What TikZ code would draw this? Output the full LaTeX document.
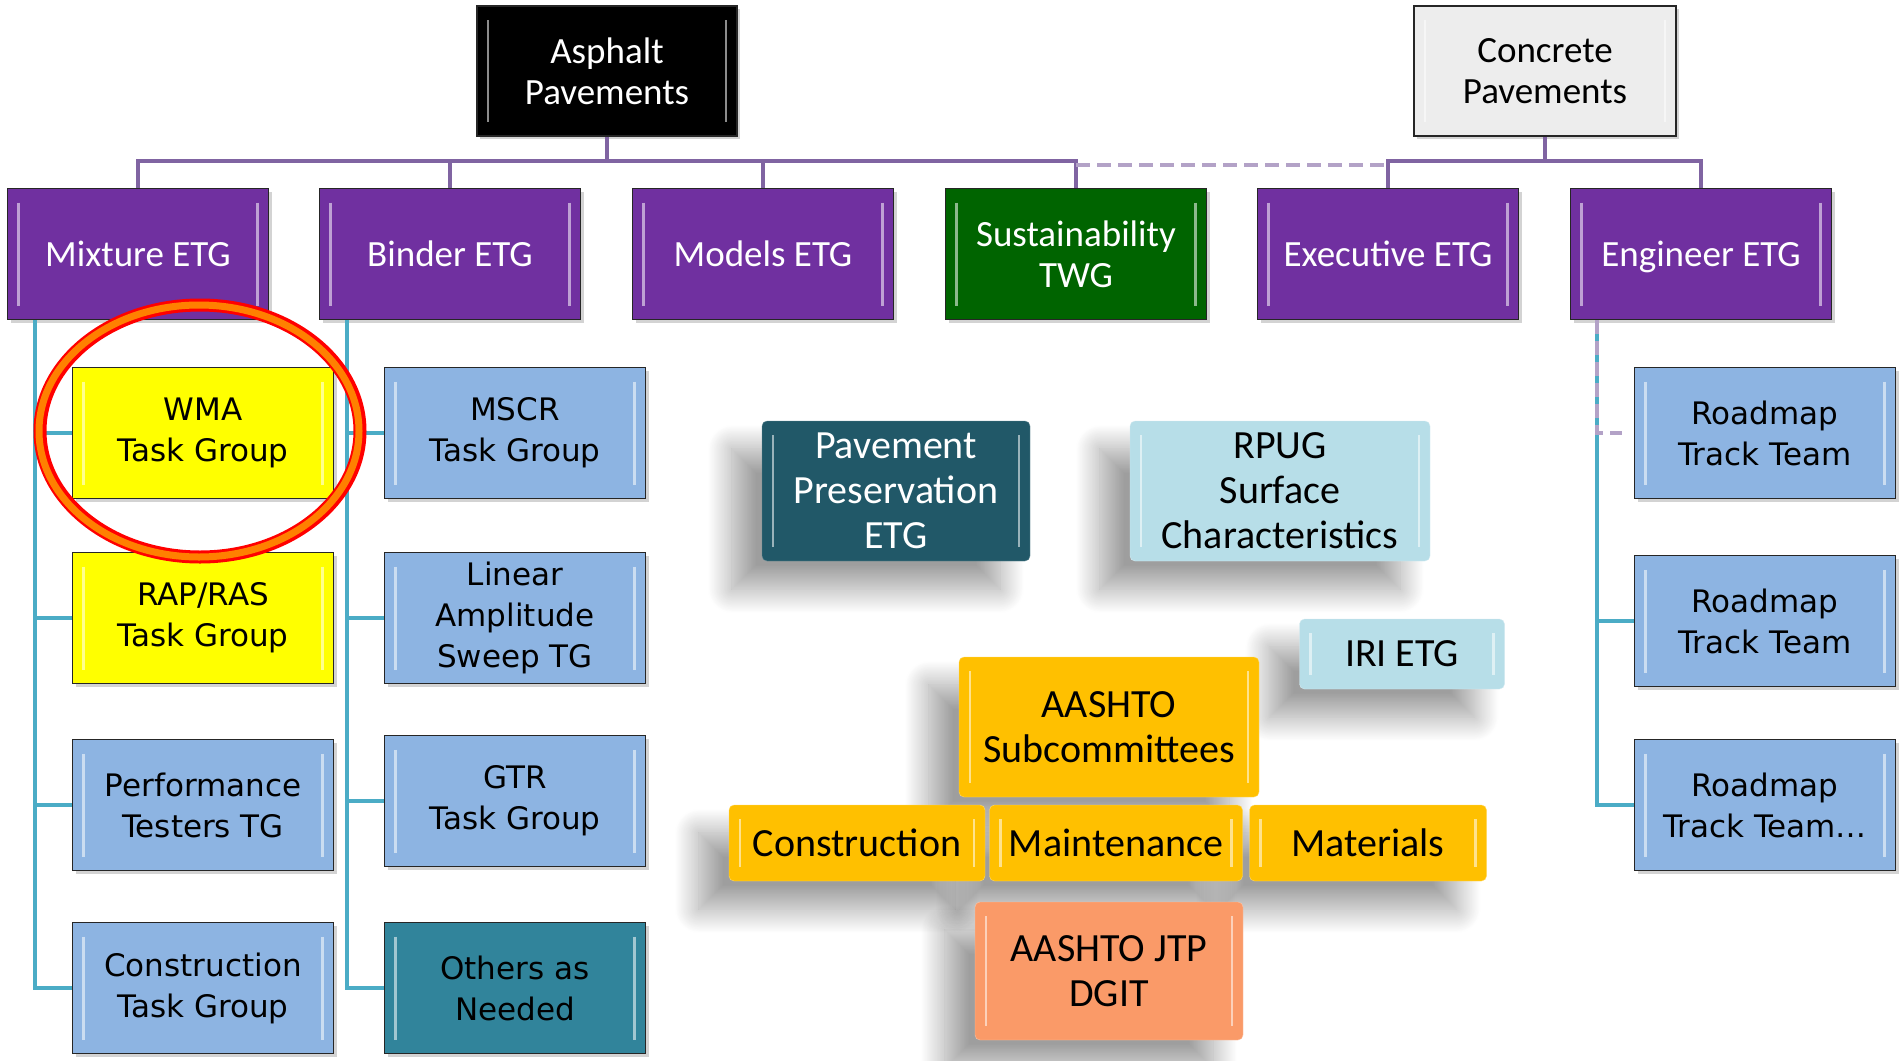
\documentclass[tikz,border=0pt]{standalone}
\usepackage{fontspec}
\setmainfont{Carlito}
\newfontfamily\tahoma{DejaVu Sans}
\usetikzlibrary{shadows,shadows.blur,backgrounds}

\definecolor{etgpurple}{HTML}{7030A0}
\definecolor{twggreen}{HTML}{006400}
\definecolor{tgblue}{HTML}{8DB4E2}
\definecolor{tgyellow}{HTML}{FFFF00}
\definecolor{tgteal}{HTML}{31849B}
\definecolor{ppteal}{HTML}{215868}
\definecolor{rpugblue}{HTML}{B7DEE8}
\definecolor{aashtogold}{HTML}{FFC000}
\definecolor{dgitorange}{HTML}{FA9A68}
\definecolor{linepurple}{HTML}{8064A2}
\definecolor{dashpurple}{HTML}{B3A2C7}
\definecolor{lineteal}{HTML}{4BACC6}
\definecolor{concretegray}{HTML}{EDEDED}

\begin{document}
\begin{tikzpicture}[
    x=1pt, y=-1pt,
    bevel/.style={path picture={
        \draw[white,opacity=.55,line width=2.5pt]
          ([xshift=11pt,yshift=-14pt]path picture bounding box.north west) --
          ([xshift=11pt,yshift=14pt]path picture bounding box.south west)
          ([xshift=-11pt,yshift=-14pt]path picture bounding box.north east) --
          ([xshift=-11pt,yshift=14pt]path picture bounding box.south east);
    }},
    box/.style={draw=black!85, line width=1.6pt, minimum width=261pt, minimum height=131pt,
        align=center, inner sep=2pt, bevel,
        drop shadow={shadow xshift=3pt, shadow yshift=-3pt, opacity=.35}},
    etg/.style={box, fill=etgpurple, text=white, font=\fontsize{37}{41}\selectfont},
    tg/.style={box, fill=tgblue, text=black, font=\tahoma\fontsize{31}{41}\selectfont},
    mid/.style={rounded corners=5pt, align=center, inner sep=2pt, bevel,
        font=\fontsize{40}{45}\selectfont},
    glow/.style={blur shadow={shadow xshift=-30pt, shadow yshift=-28pt, shadow blur radius=24pt,
        shadow blur steps=30, shadow opacity=38}},
    pline/.style={draw=linepurple, line width=4pt},
    dline/.style={draw=dashpurple, line width=4pt, dash pattern=on 14pt off 7pt},
    tline/.style={draw=lineteal, line width=4pt}
]
\useasboundingbox (0,0) rectangle (1903,1060);

% === Top level ===
\node[box, fill=black, text=white, minimum width=260pt, minimum height=130pt,
      font=\fontsize{37}{41}\selectfont] (AP) at (607,71) {Asphalt\\Pavements};
\node[box, fill=concretegray, text=black, minimum width=262pt, minimum height=130pt,
      font=\fontsize{37}{41}\selectfont] (CP) at (1545,71) {Concrete\\Pavements};

% === Expert / working groups ===
\node[etg] (MX) at (138,254) {Mixture ETG};
\node[etg] (BD) at (450,254) {Binder ETG};
\node[etg] (MD) at (763,254) {Models ETG};
\node[etg, fill=twggreen] (SU) at (1076,254) {Sustainability\\TWG};
\node[etg] (EX) at (1388,254) {Executive ETG};
\node[etg, text depth=0pt] (EN) at (1701,254) {Engineer ETG};

% === Mixture task groups ===
\node[tg, fill=tgyellow] (WMA) at (203,433) {WMA\\Task Group};
\node[tg, fill=tgyellow] (RAP) at (203,618) {RAP/RAS\\Task Group};
\node[tg] (PT) at (203,805) {Performance\\Testers TG};
\node[tg] (CT) at (203,988) {Construction\\Task Group};

% === Binder task groups ===
\node[tg] (MS) at (515,433) {MSCR\\Task Group};
\node[tg] (LA) at (515,618) {Linear\\Amplitude\\Sweep TG};
\node[tg] (GT) at (515,801) {GTR\\Task Group};
\node[tg, fill=tgteal] (OT) at (515,988) {Others as\\Needed};

% === Engineer track teams ===
\node[tg] (RM1) at (1765,433) {Roadmap\\Track Team};
\node[tg] (RM2) at (1765,621) {Roadmap\\Track Team};
\node[tg] (RM3) at (1765,805) {Roadmap\\Track Team\ldots};

% === Free standing groups ===
\node[mid, fill=ppteal, draw=ppteal!70!white, text=white, minimum width=268pt, minimum height=140pt] (PP) at (896,491) {Pavement\\Preservation\\ETG};
\node[mid, fill=rpugblue, draw=rpugblue!60!white, minimum width=300pt, minimum height=140pt] (RP) at (1280,491) {RPUG\\Surface\\Characteristics};
\node[mid, fill=rpugblue, draw=rpugblue!60!white, minimum width=205pt, minimum height=70pt] (IRI) at (1402,654) {IRI ETG};
\node[mid, fill=aashtogold, draw=aashtogold!60!white, minimum width=300pt, minimum height=140pt] (AS) at (1109,727) {AASHTO\\Subcommittees};
\node[mid, fill=aashtogold, draw=aashtogold!60!white, minimum width=256pt, minimum height=76pt] (CON) at (857,843) {Construction};
\node[mid, fill=aashtogold, draw=aashtogold!60!white, minimum width=253pt, minimum height=76pt] (MAI) at (1116,843) {Maintenance};
\node[mid, fill=aashtogold, draw=aashtogold!60!white, minimum width=237pt, minimum height=76pt] (MAT) at (1368,843) {Materials};
\node[mid, fill=dgitorange, draw=dgitorange!60!white, minimum width=268pt, minimum height=138pt] (DG) at (1109,971) {AASHTO JTP\\DGIT};

% shadows behind the free standing groups
\begin{pgfonlayer}{background}
\foreach \n in {PP,RP,IRI,AS,CON,MAI,MAT,DG}
  \path[glow] (\n.north west) rectangle (\n.south east);
\end{pgfonlayer}

% === Purple connectors ===
\coordinate (Abus) at (607,161);
\coordinate (Cbus) at (1545,161);
\draw[pline] (AP.south) -- (Abus);
\draw[pline] (Abus) -| (MX.north);
\draw[pline] (Abus) -| (BD.north);
\draw[pline] (Abus) -| (MD.north);
\draw[pline] (Abus) -| (SU.north);
\draw[pline] (CP.south) -- (Cbus);
\draw[pline] (Cbus) -| (EX.north);
\draw[pline] (Cbus) -| (EN.north);
\draw[dline] ([yshift=-4pt]SU.north |- Abus) -- ([yshift=-4pt]EX.north |- Cbus);

% === Teal connectors ===
\coordinate (MXb) at (35,320);
\coordinate (BDb) at (347,320);
\coordinate (ENb) at (1597,320);
\draw[tline] (MXb) |- (WMA.west);
\draw[tline] (MXb) |- (RAP.west);
\draw[tline] (MXb) |- (PT.west);
\draw[tline] (MXb) |- (CT.west);
\draw[tline] (BDb) |- (MS.west);
\draw[tline] (BDb) |- (LA.west);
\draw[tline] (BDb) |- (GT.west);
\draw[tline] (BDb) |- (OT.west);
\draw[tline] (ENb) |- (RM2.west);
\draw[tline] (ENb) |- (RM3.west);
\coordinate (ENs) at (1622,433);
\draw[dline] (ENb) |- (ENs);

% === Highlight ===
\draw[red, line width=13pt] (200,431) ellipse (160pt and 126pt);
\draw[orange, line width=7pt] (199,431) ellipse (160pt and 126pt);

\end{tikzpicture}
\end{document}
